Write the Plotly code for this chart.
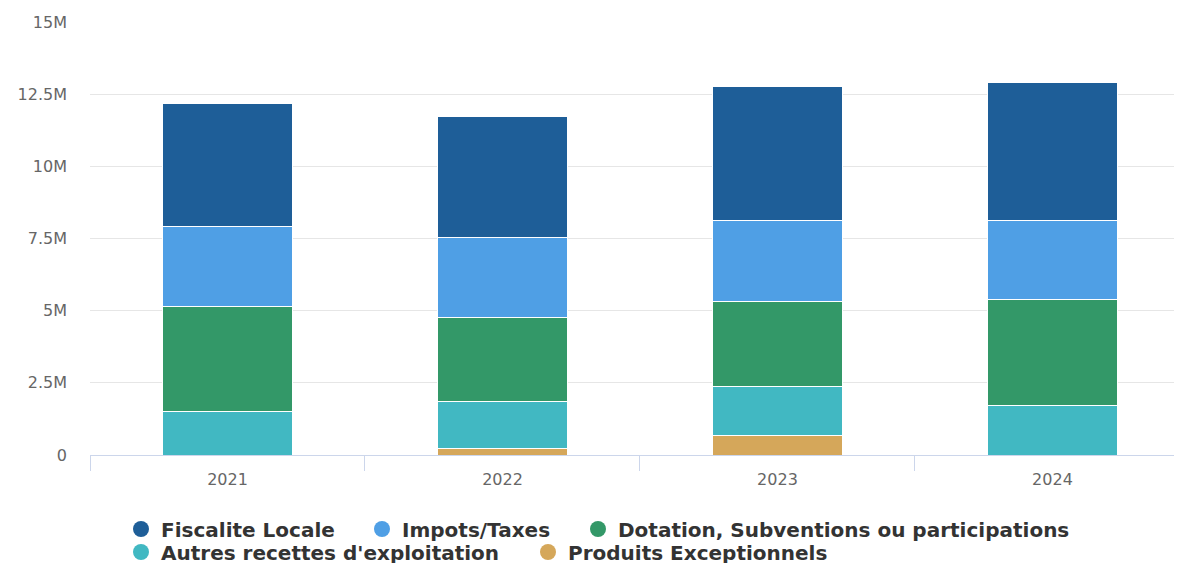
import plotly.graph_objects as go

years = ["2021", "2022", "2023", "2024"]

# values in euros
produits = [0, 240000, 690000, 0]
autres = [1490000, 1630000, 1670000, 1700000]
dotation = [3670000, 2880000, 2970000, 3700000]
impots = [2740000, 2770000, 2810000, 2740000]
fiscalite = [4260000, 4220000, 4610000, 4780000]

names = [
    "Produits Exceptionnels",
    "Autres recettes d'exploitation",
    "Dotation, Subventions ou participations",
    "Impots/Taxes",
    "Fiscalite Locale",
]
values = [produits, autres, dotation, impots, fiscalite]
colors = ["#d5a75a", "#41b8c2", "#339868", "#4f9fe5", "#1e5e98"]

# page body has an 8px margin, so everything is placed 8px up/left
W, H = 1174, 563

# one legend box per entry so the spacing follows the reference
# (legend id, left x in px, row centre y in px)
legend_slots = [
    ("legend5", 520, 544),
    ("legend4", 113, 544),
    ("legend3", 570, 521),
    ("legend2", 354, 521),
    ("legend", 113, 521),
]

fig = go.Figure()

for name, vals, color in zip(names, values, colors):
    fig.add_trace(go.Bar(
        x=years, y=vals, name=name,
        marker=dict(color=color, line=dict(color="white", width=1)),
        showlegend=False,
    ))

for name, color, slot in zip(names, colors, legend_slots):
    fig.add_trace(go.Scatter(
        x=[None], y=[None], mode="markers", name=name, legend=slot[0],
        marker=dict(color=color, size=20, symbol="circle"),
    ))

legend_font = dict(family="DejaVu Sans", size=20, color="#333333", weight="bold")
legends = {}
for lid, lx, ly in legend_slots:
    legends[lid] = dict(
        orientation="h",
        xref="container", yref="container",
        xanchor="left", yanchor="middle",
        x=lx / W, y=1 - ly / H,
        font=legend_font, itemsizing="trace",
        bgcolor="rgba(0,0,0,0)",
    )

fig.update_layout(
    width=W, height=H,
    barmode="stack",
    bargap=0.525,
    plot_bgcolor="white",
    paper_bgcolor="white",
    margin=dict(l=82, r=0, t=14, b=116),
    font=dict(family="DejaVu Sans", size=16, color="#666666"),
    xaxis=dict(
        # last category runs a little past the right edge in the reference
        range=[-0.5, 3.471],
        showline=True, linecolor="#ccd6eb", linewidth=1,
        ticks="outside", tickson="boundaries", ticklen=15, tickcolor="#ccd6eb",
        showgrid=False,
        ticklabelstandoff=10,
        tickfont=dict(size=16, color="#666666"),
        automargin=False,
    ),
    yaxis=dict(
        range=[0, 15e6],
        dtick=2.5e6,
        tickformat="~s",
        showgrid=True, gridcolor="#e6e6e6", gridwidth=1,
        zeroline=False,
        ticklabelstandoff=22,
        tickfont=dict(size=16, color="#666666"),
        automargin=False,
    ),
    **legends,
)

fig.write_html("out.html")
